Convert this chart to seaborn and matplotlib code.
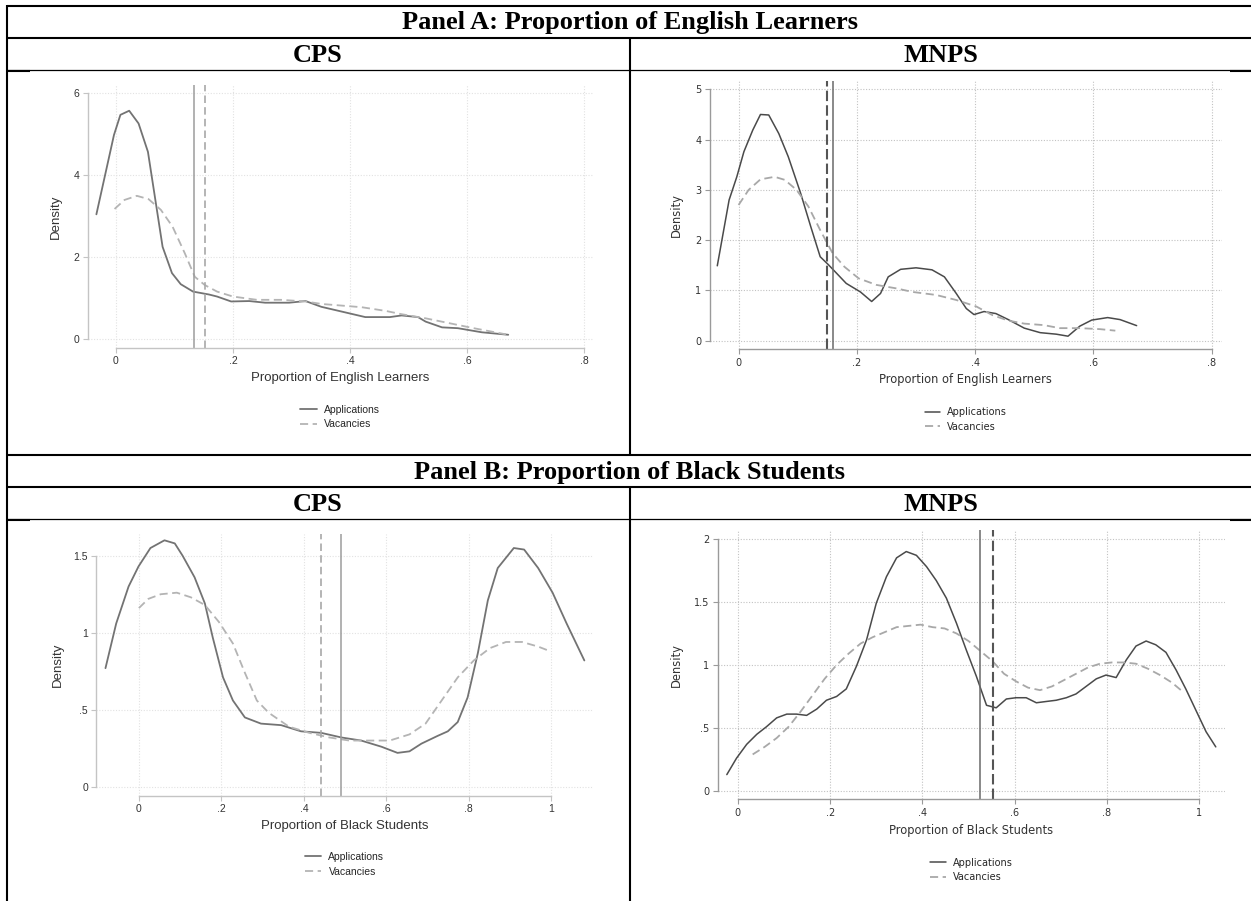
import matplotlib
matplotlib.use("Agg")
import matplotlib.pyplot as plt
from matplotlib.lines import Line2D
import seaborn as sns

# -------------------------
# DATA
# -------------------------
# Panel A - CPS, proportion of English learners
a_cps_app_x = [-0.033, -0.003, 0.008, 0.023, 0.039, 0.055, 0.080, 0.096, 0.111, 0.132, 0.159, 0.173,
               0.197, 0.228, 0.255, 0.296, 0.324, 0.351, 0.399, 0.426, 0.468, 0.488, 0.516, 0.529,
               0.557, 0.584, 0.625, 0.670]
a_cps_app_y = [3.04, 4.97, 5.46, 5.56, 5.25, 4.56, 2.25, 1.61, 1.34, 1.16, 1.09, 1.04,
               0.92, 0.93, 0.89, 0.89, 0.93, 0.79, 0.63, 0.54, 0.54, 0.58, 0.54, 0.43,
               0.29, 0.27, 0.17, 0.11]
a_cps_vac_x = [-0.002, 0.015, 0.036, 0.056, 0.077, 0.097, 0.118, 0.135, 0.152, 0.173, 0.200, 0.241,
               0.282, 0.324, 0.351, 0.420, 0.461, 0.488, 0.529, 0.570, 0.611, 0.666]
a_cps_vac_y = [3.17, 3.39, 3.49, 3.41, 3.15, 2.74, 2.09, 1.52, 1.32, 1.16, 1.04, 0.96,
               0.96, 0.92, 0.86, 0.78, 0.69, 0.61, 0.51, 0.39, 0.27, 0.12]
a_cps_means = [0.134, 0.152]  # applications, vacancies

# Panel A - MNPS
a_mnps_app_x = [-0.036, -0.016, -0.003, 0.009, 0.024, 0.037, 0.051, 0.068, 0.084, 0.105, 0.122, 0.138,
                0.152, 0.165, 0.182, 0.206, 0.225, 0.240, 0.253, 0.274, 0.300, 0.327, 0.348, 0.368,
                0.385, 0.398, 0.415, 0.435, 0.456, 0.483, 0.510, 0.537, 0.557, 0.577, 0.597, 0.624,
                0.645, 0.673]
a_mnps_app_y = [1.49, 2.80, 3.26, 3.76, 4.19, 4.50, 4.49, 4.12, 3.66, 2.93, 2.27, 1.67,
                1.51, 1.35, 1.14, 0.97, 0.78, 0.94, 1.27, 1.42, 1.45, 1.41, 1.27, 0.94,
                0.64, 0.52, 0.58, 0.54, 0.42, 0.25, 0.16, 0.13, 0.09, 0.29, 0.41, 0.46,
                0.42, 0.30]
a_mnps_vac_x = [0.000, 0.017, 0.037, 0.061, 0.078, 0.098, 0.118, 0.138, 0.159, 0.179, 0.203, 0.233,
                0.267, 0.294, 0.334, 0.368, 0.402, 0.429, 0.456, 0.483, 0.516, 0.543, 0.577, 0.611,
                0.637]
a_mnps_vac_y = [2.70, 3.00, 3.21, 3.26, 3.20, 3.00, 2.67, 2.20, 1.74, 1.47, 1.24, 1.11,
                1.04, 0.97, 0.91, 0.81, 0.68, 0.51, 0.40, 0.34, 0.31, 0.25, 0.25, 0.23,
                0.20]
a_mnps_means = [0.160, 0.149]

# Panel B - CPS, proportion of Black students
b_cps_app_x = [-0.081, -0.055, -0.025, -0.001, 0.028, 0.062, 0.087, 0.106, 0.135, 0.160, 0.179, 0.204,
               0.228, 0.257, 0.296, 0.345, 0.393, 0.442, 0.491, 0.539, 0.588, 0.627, 0.656, 0.685,
               0.724, 0.749, 0.773, 0.797, 0.822, 0.846, 0.870, 0.909, 0.934, 0.968, 1.003, 1.037,
               1.080]
b_cps_app_y = [0.77, 1.06, 1.30, 1.43, 1.55, 1.60, 1.58, 1.50, 1.36, 1.19, 0.97, 0.71,
               0.56, 0.45, 0.41, 0.40, 0.36, 0.35, 0.32, 0.30, 0.26, 0.22, 0.23, 0.28,
               0.33, 0.36, 0.42, 0.58, 0.87, 1.21, 1.42, 1.55, 1.54, 1.42, 1.26, 1.06,
               0.82]
b_cps_vac_x = [0.000, 0.023, 0.053, 0.092, 0.126, 0.160, 0.194, 0.228, 0.257, 0.286, 0.315, 0.364,
               0.413, 0.462, 0.510, 0.559, 0.608, 0.656, 0.695, 0.734, 0.773, 0.812, 0.851, 0.890,
               0.929, 0.968, 0.997]
b_cps_vac_y = [1.16, 1.22, 1.25, 1.26, 1.23, 1.18, 1.07, 0.93, 0.74, 0.56, 0.48, 0.39,
               0.35, 0.32, 0.30, 0.30, 0.30, 0.34, 0.41, 0.56, 0.71, 0.82, 0.90, 0.94,
               0.94, 0.91, 0.88]
b_cps_means = [0.489, 0.442]

# Panel B - MNPS
b_mnps_app_x = [-0.024, -0.003, 0.019, 0.041, 0.062, 0.084, 0.106, 0.127, 0.149, 0.171, 0.192, 0.214,
                0.235, 0.257, 0.279, 0.300, 0.322, 0.344, 0.365, 0.387, 0.409, 0.430, 0.452, 0.474,
                0.495, 0.517, 0.539, 0.560, 0.582, 0.603, 0.625, 0.647, 0.668, 0.690, 0.712, 0.733,
                0.755, 0.777, 0.798, 0.820, 0.842, 0.863, 0.885, 0.906, 0.928, 0.950, 0.971, 0.993,
                1.015, 1.036]
b_mnps_app_y = [0.13, 0.26, 0.37, 0.45, 0.51, 0.58, 0.61, 0.61, 0.60, 0.65, 0.72, 0.75,
                0.81, 0.99, 1.20, 1.49, 1.70, 1.85, 1.90, 1.87, 1.78, 1.67, 1.53, 1.33,
                1.12, 0.91, 0.68, 0.66, 0.73, 0.74, 0.74, 0.70, 0.71, 0.72, 0.74, 0.77,
                0.83, 0.89, 0.92, 0.90, 1.04, 1.15, 1.19, 1.16, 1.10, 0.96, 0.81, 0.64,
                0.47, 0.35]
b_mnps_vac_x = [0.032, 0.058, 0.084, 0.110, 0.136, 0.162, 0.188, 0.214, 0.240, 0.266, 0.292, 0.318,
                0.344, 0.370, 0.396, 0.422, 0.448, 0.474, 0.500, 0.526, 0.552, 0.577, 0.603, 0.629,
                0.655, 0.681, 0.707, 0.733, 0.759, 0.785, 0.811, 0.837, 0.863, 0.889, 0.915, 0.941,
                0.967]
b_mnps_vac_y = [0.29, 0.35, 0.42, 0.51, 0.63, 0.76, 0.89, 1.00, 1.09, 1.17, 1.22, 1.26,
                1.30, 1.31, 1.32, 1.30, 1.29, 1.25, 1.19, 1.11, 1.03, 0.93, 0.87, 0.82,
                0.80, 0.83, 0.88, 0.93, 0.98, 1.01, 1.02, 1.02, 1.01, 0.97, 0.92, 0.86,
                0.78]
b_mnps_means = [0.524, 0.552]

ticks_a_x = [0, 0.2, 0.4, 0.6, 0.8]
ticklabels_a_x = ['0', '.2', '.4', '.6', '.8']
ticks_b_x = [0, 0.2, 0.4, 0.6, 0.8, 1]
ticklabels_b_x = ['0', '.2', '.4', '.6', '.8', '1']
ticks_a_cps_y = [0, 2, 4, 6]
ticks_a_mnps_y = [0, 1, 2, 3, 4, 5]
ticks_b_cps_y = [0, 0.5, 1, 1.5]
ticklabels_b_cps_y = ['0', '.5', '1', '1.5']
ticks_b_mnps_y = [0, 0.5, 1, 1.5, 2]
ticklabels_b_mnps_y = ['0', '.5', '1', '1.5', '2']

series_labels = ['Applications', 'Vacancies']
panel_titles = ['Panel A: Proportion of English Learners', 'Panel B: Proportion of Black Students']
district_titles = ['CPS', 'MNPS']
xlabel_a = 'Proportion of English Learners'
xlabel_b = 'Proportion of Black Students'

# -------------------------
# STYLES
# -------------------------
sns.set_style("white")
W, H = 1251, 901

cps_style = dict(family=['Liberation Sans Narrow', 'Liberation Sans', 'DejaVu Sans'],
                 tick_size=7.5, label_size=9.5, legend_size=7.5,
                 app_color='#737373', vac_color='#b4b4b4', app_lw=1.3, vac_lw=1.3,
                 vapp_color='#9c9c9c', vvac_color='#a8a8a8', vvac_lw=1.2,
                 vvac_dash=(0, (4.5, 2.5)), spine='#c4c4c4', grid='#e2e2e2')
mnps_style = dict(family=['DejaVu Sans'],
                  tick_size=7, label_size=8.3, legend_size=7,
                  app_color='#4a4a4a', vac_color='#a8a8a8', app_lw=1.1, vac_lw=1.3,
                  vapp_color='#6a6a6a', vvac_color='#555555', vvac_lw=1.5,
                  vvac_dash=(0, (5, 2)), spine='#9a9a9a', grid='#c2c2c2')


def add_axes_px(fig, left, top, right, bottom):
    return fig.add_axes([left / W, 1 - bottom / H, (right - left) / W, (bottom - top) / H])


def draw_panel(ax, app_x, app_y, vac_x, vac_y, means, xticks, xticklabels, yticks, yticklabels,
               xlim, ylim, xlabel, st, ylab_x):
    sns.lineplot(x=app_x, y=app_y, ax=ax, color=st['app_color'], lw=st['app_lw'], sort=False,
                 estimator=None)
    sns.lineplot(x=vac_x, y=vac_y, ax=ax, color=st['vac_color'], lw=st['vac_lw'], sort=False,
                 estimator=None, linestyle=(0, (4.5, 2.5)))
    h_app, h_vac = ax.lines[0], ax.lines[1]
    ax.axvline(means[0], color=st['vapp_color'], lw=1.1)
    ax.axvline(means[1], color=st['vvac_color'], lw=st['vvac_lw'], linestyle=st['vvac_dash'])

    ax.set_xlim(*xlim)
    ax.set_ylim(*ylim)
    ax.set_xticks(xticks)
    ax.set_xticklabels(xticklabels)
    ax.set_yticks(yticks)
    ax.set_yticklabels(yticklabels)
    ax.grid(True, color=st['grid'], lw=0.8, linestyle=(0, (1, 1.5)))
    ax.set_axisbelow(True)
    for side in ['top', 'right']:
        ax.spines[side].set_visible(False)
    ax.spines['left'].set_bounds(yticks[0], yticks[-1])
    ax.spines['bottom'].set_bounds(xticks[0], xticks[-1])
    for side in ['left', 'bottom']:
        ax.spines[side].set_color(st['spine'])
        ax.spines[side].set_linewidth(1.0)
    ax.tick_params(axis='both', which='major', length=3.5, width=0.8, color=st['spine'],
                   labelsize=st['tick_size'], labelcolor='#333333', pad=2.5, left=True, bottom=True)
    for lab in ax.get_xticklabels() + ax.get_yticklabels():
        lab.set_family(st['family'])

    ax.set_xlabel(xlabel, fontsize=st['label_size'], family=st['family'], color='#333333')
    ax.set_ylabel('Density', fontsize=st['label_size'], family=st['family'], color='#333333')
    ax.xaxis.set_label_coords(0.5, -0.114)
    ax.xaxis.label.set_va('center')
    ax.yaxis.set_label_coords(ylab_x, 0.5)
    ax.yaxis.label.set_va('center')

    ax.legend([h_app, h_vac], series_labels, loc='center', bbox_to_anchor=(0.5, -0.262),
              frameon=False, handlelength=1.6, handletextpad=0.7, labelspacing=0.45,
              prop={'family': st['family'], 'size': st['legend_size']})


# -------------------------
# FIGURE
# -------------------------
fig = plt.figure(figsize=(W / 100, H / 100), dpi=100)
fig.patch.set_facecolor('white')

ax1 = add_axes_px(fig, 87.6, 85, 592.6, 348)
draw_panel(ax1, a_cps_app_x, a_cps_app_y, a_cps_vac_x, a_cps_vac_y, a_cps_means,
           ticks_a_x, ticklabels_a_x, ticks_a_cps_y, [str(t) for t in ticks_a_cps_y],
           (-0.048, 0.814), (-0.212, 6.186), xlabel_a, cps_style, -0.063)

ax2 = add_axes_px(fig, 709.6, 80.7, 1221.8, 349.3)
draw_panel(ax2, a_mnps_app_x, a_mnps_app_y, a_mnps_vac_x, a_mnps_vac_y, a_mnps_means,
           ticks_a_x, ticklabels_a_x, ticks_a_mnps_y, [str(t) for t in ticks_a_mnps_y],
           (-0.049, 0.817), (-0.171, 5.172), xlabel_a, mnps_style, -0.064)

ax3 = add_axes_px(fig, 96.4, 534, 592.6, 795.7)
draw_panel(ax3, b_cps_app_x, b_cps_app_y, b_cps_vac_x, b_cps_vac_y, b_cps_means,
           ticks_b_x, ticklabels_b_x, ticks_b_cps_y, ticklabels_b_cps_y,
           (-0.103, 1.100), (-0.058, 1.641), xlabel_b, cps_style, -0.078)

ax4 = add_axes_px(fig, 717.6, 530, 1225, 799.3)
draw_panel(ax4, b_mnps_app_x, b_mnps_app_y, b_mnps_vac_x, b_mnps_vac_y, b_mnps_means,
           ticks_b_x, ticklabels_b_x, ticks_b_mnps_y, ticklabels_b_mnps_y,
           (-0.044, 1.056), (-0.066, 2.071), xlabel_b, mnps_style, -0.082)


# -------------------------
# TABLE FRAME + HEADERS
# -------------------------
def hline(y, x0=7, x1=W, lw=1.5):
    fig.add_artist(Line2D([x0 / W, x1 / W], [1 - y / H, 1 - y / H], color='black', lw=lw,
                          solid_capstyle='butt'))


def vline(x, y0, y1, lw=1.5):
    fig.add_artist(Line2D([x / W, x / W], [1 - y0 / H, 1 - y1 / H], color='black', lw=lw,
                          solid_capstyle='butt'))


for y in [6, 37.7, 455, 486.7]:
    hline(y)
for y in [70, 519]:
    hline(y, lw=0.9)
    hline(y + 0.6, 7, 30, lw=1.5)
    hline(y + 0.6, 1230, W, lw=1.5)
vline(7, 5, H)
vline(630, 37.7, 455)
vline(630, 486.7, H)

header_font = dict(family=['Liberation Serif', 'DejaVu Serif'], weight='bold', ha='center',
                   va='center', color='black')
fig.text(630 / W, 1 - 23 / H, panel_titles[0], fontsize=19, **header_font)
fig.text(630 / W, 1 - 472.5 / H, panel_titles[1], fontsize=19, **header_font)
for y in [55.5, 504.5]:
    fig.text(318 / W, 1 - y / H, district_titles[0], fontsize=19, **header_font)
    fig.text(941 / W, 1 - y / H, district_titles[1], fontsize=19, **header_font)

fig.savefig('out.png', dpi=100, facecolor='white')
